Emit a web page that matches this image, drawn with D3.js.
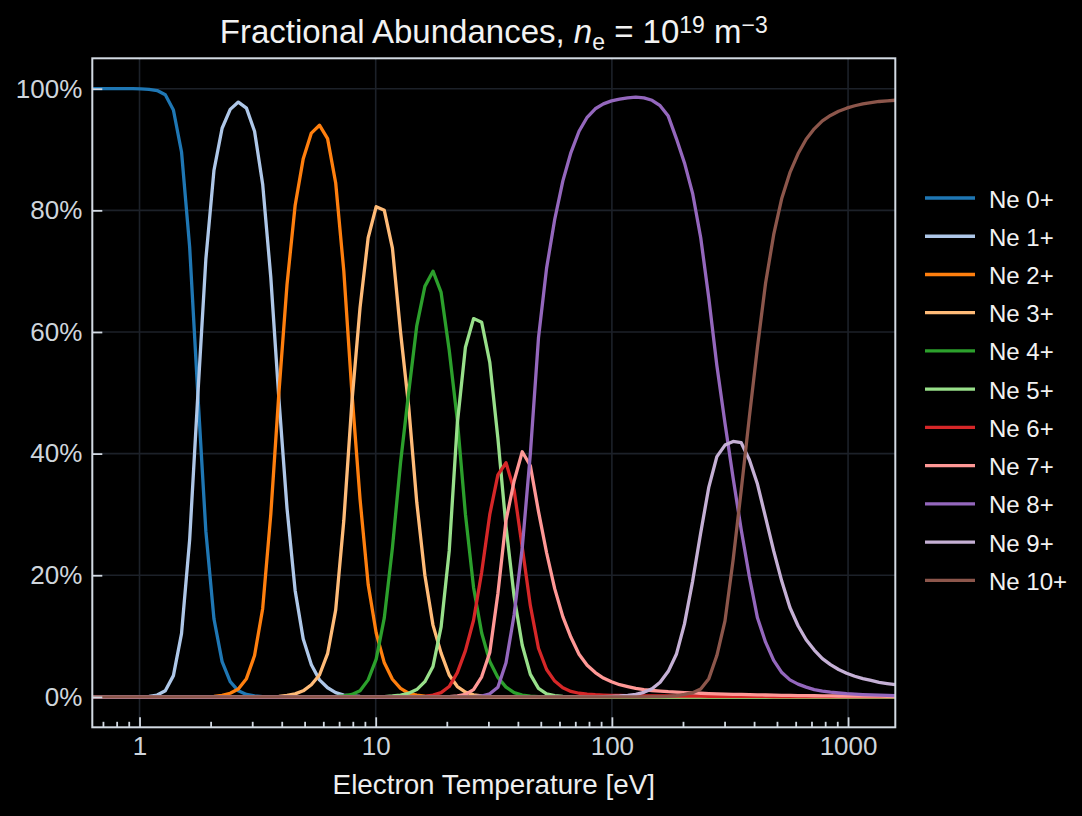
<!DOCTYPE html>
<html>
<head>
<meta charset="utf-8">
<script src="https://cdn.jsdelivr.net/npm/d3@7"></script>
<style>
  html, body { margin: 0; padding: 0; background: #000; }
  svg { display: block; font-family: "Liberation Sans", Arial, sans-serif; }
</style>
</head>
<body>
<svg id="abundanceVis" width="1082" height="816"></svg>
<script>
// electron temperature grid [eV]
const temperature = [
  0.6310, 0.6828, 0.7391, 0.7998, 0.8657, 0.9370, 1.0140, 1.0975, 1.1878, 1.2856,
  1.3914, 1.5060, 1.6300, 1.7642, 1.9094, 2.0666, 2.2367, 2.4209, 2.6202, 2.8358,
  3.0693, 3.3220, 3.5955, 3.8915, 4.2118, 4.5586, 4.9338, 5.3400, 5.7796, 6.2554,
  6.7703, 7.3277, 7.9309, 8.5838, 9.2905, 10.047, 10.874, 11.770, 12.738, 13.787,
  14.922, 16.150, 17.480, 18.919, 20.476, 22.162, 23.986, 25.961, 28.098, 30.411,
  32.914, 35.624, 38.556, 41.730, 45.166, 48.884, 52.908, 57.264, 61.978, 67.080,
  72.602, 78.579, 85.047, 92.049, 99.626, 107.83, 116.65, 126.26, 136.65, 147.91,
  160.08, 173.26, 187.52, 202.96, 219.67, 237.76, 257.33, 278.26, 301.24, 326.04,
  352.88, 381.94, 413.38, 447.42, 484.26, 524.13, 567.29, 613.99, 664.53, 719.25,
  778.47, 842.56, 911.93, 986.15, 1067.3, 1155.2, 1250.3, 1353.3, 1464.7, 1584.9
];

// fractional abundance of each charge state
const ne0 = [
  1, 1, 1, 1, 1, 1, 0.9998, 0.999, 0.997, 0.99, 0.965, 0.896, 0.74, 0.50, 0.272, 0.128, 0.058, 0.025, 0.01, 0.004,
  0.0015, 0.0006, 0.0002, 0, 0, 0, 0, 0, 0, 0, 0, 0, 0, 0, 0, 0, 0, 0, 0, 0,
  0, 0, 0, 0, 0, 0, 0, 0, 0, 0, 0, 0, 0, 0, 0, 0, 0, 0, 0, 0,
  0, 0, 0, 0, 0, 0, 0, 0, 0, 0, 0, 0, 0, 0, 0, 0, 0, 0, 0, 0,
  0, 0, 0, 0, 0, 0, 0, 0, 0, 0, 0, 0, 0, 0, 0, 0, 0, 0, 0, 0
];
const ne1 = [
  0, 0, 0, 0, 0, 0, 0.0002, 0.001, 0.003, 0.01, 0.035, 0.104, 0.258, 0.494, 0.72, 0.866, 0.935, 0.966, 0.978, 0.968,
  0.93, 0.843, 0.69, 0.49, 0.31, 0.175, 0.095, 0.053, 0.028, 0.015, 0.007, 0.003, 0.0015, 0.0007, 0.0003, 0, 0, 0, 0, 0,
  0, 0, 0, 0, 0, 0, 0, 0, 0, 0, 0, 0, 0, 0, 0, 0, 0, 0, 0, 0,
  0, 0, 0, 0, 0, 0, 0, 0, 0, 0, 0, 0, 0, 0, 0, 0, 0, 0, 0, 0,
  0, 0, 0, 0, 0, 0, 0, 0, 0, 0, 0, 0, 0, 0, 0, 0, 0, 0, 0, 0
];
const ne2 = [
  0, 0, 0, 0, 0, 0, 0, 0, 0, 0, 0, 0, 0, 0, 0.0003, 0.001, 0.0025, 0.006, 0.013, 0.03,
  0.068, 0.145, 0.30, 0.50, 0.678, 0.808, 0.885, 0.927, 0.94, 0.918, 0.845, 0.70, 0.50, 0.325, 0.185, 0.105, 0.056, 0.029, 0.014, 0.006,
  0.003, 0.0012, 0.0005, 0.0002, 0, 0, 0, 0, 0, 0, 0, 0, 0, 0, 0, 0, 0, 0, 0, 0,
  0, 0, 0, 0, 0, 0, 0, 0, 0, 0, 0, 0, 0, 0, 0, 0, 0, 0, 0, 0,
  0, 0, 0, 0, 0, 0, 0, 0, 0, 0, 0, 0, 0, 0, 0, 0, 0, 0, 0, 0
];
const ne3 = [
  0, 0, 0, 0, 0, 0, 0, 0, 0, 0, 0, 0, 0, 0, 0, 0, 0, 0, 0, 0,
  0, 0, 0.0003, 0.001, 0.0025, 0.005, 0.01, 0.02, 0.036, 0.071, 0.143, 0.29, 0.485, 0.64, 0.755, 0.806, 0.80, 0.738, 0.60, 0.478,
  0.32, 0.20, 0.118, 0.072, 0.036, 0.017, 0.008, 0.0035, 0.0015, 0.0006, 0.0002, 0, 0, 0, 0, 0, 0, 0, 0, 0,
  0, 0, 0, 0, 0, 0, 0, 0, 0, 0, 0, 0, 0, 0, 0, 0, 0, 0, 0, 0,
  0, 0, 0, 0, 0, 0, 0, 0, 0, 0, 0, 0, 0, 0, 0, 0, 0, 0, 0, 0
];
const ne4 = [
  0, 0, 0, 0, 0, 0, 0, 0, 0, 0, 0, 0, 0, 0, 0, 0, 0, 0, 0, 0,
  0, 0, 0, 0, 0, 0, 0, 0, 0, 0, 0.0005, 0.0015, 0.004, 0.01, 0.028, 0.062, 0.13, 0.245, 0.385, 0.50,
  0.61, 0.675, 0.70, 0.665, 0.57, 0.455, 0.30, 0.18, 0.105, 0.058, 0.032, 0.016, 0.007, 0.003, 0.0012, 0.0005, 0.0002, 0, 0, 0,
  0, 0, 0, 0, 0, 0, 0, 0, 0, 0, 0, 0, 0, 0, 0, 0, 0, 0, 0, 0,
  0, 0, 0, 0, 0, 0, 0, 0, 0, 0, 0, 0, 0, 0, 0, 0, 0, 0, 0, 0
];
const ne5 = [
  0, 0, 0, 0, 0, 0, 0, 0, 0, 0, 0, 0, 0, 0, 0, 0, 0, 0, 0, 0,
  0, 0, 0, 0, 0, 0, 0, 0, 0, 0, 0, 0, 0, 0, 0, 0, 0.0005, 0.0015, 0.003, 0.006,
  0.012, 0.025, 0.05, 0.115, 0.24, 0.45, 0.575, 0.622, 0.616, 0.55, 0.425, 0.28, 0.165, 0.085, 0.037, 0.014, 0.005, 0.002, 0.0008, 0.0003,
  0, 0, 0, 0, 0, 0, 0, 0, 0, 0, 0, 0, 0, 0, 0, 0, 0, 0, 0, 0,
  0, 0, 0, 0, 0, 0, 0, 0, 0, 0, 0, 0, 0, 0, 0, 0, 0, 0, 0, 0
];
const ne6 = [
  0, 0, 0, 0, 0, 0, 0, 0, 0, 0, 0, 0, 0, 0, 0, 0, 0, 0, 0, 0,
  0, 0, 0, 0, 0, 0, 0, 0, 0, 0, 0, 0, 0, 0, 0, 0, 0, 0, 0, 0,
  0.0005, 0.001, 0.003, 0.007, 0.017, 0.04, 0.076, 0.126, 0.205, 0.30, 0.365, 0.385, 0.34, 0.246, 0.15, 0.08, 0.045, 0.026, 0.015, 0.009,
  0.006, 0.0045, 0.0035, 0.003, 0.0026, 0.0023, 0.0021, 0.0019, 0.0018, 0.0017, 0.0016, 0.0015, 0.0014, 0.0013, 0.0012, 0.0011, 0.001, 0.001, 0.0009, 0.0009,
  0.0008, 0.0008, 0.0007, 0.0007, 0.0006, 0.0006, 0.0005, 0.0005, 0.0005, 0.0004, 0.0004, 0.0004, 0.0004, 0.0004, 0.0003, 0.0003, 0.0003, 0.0003, 0.0003, 0.0003
];
const ne7 = [
  0, 0, 0, 0, 0, 0, 0, 0, 0, 0, 0, 0, 0, 0, 0, 0, 0, 0, 0, 0,
  0, 0, 0, 0, 0, 0, 0, 0, 0, 0, 0, 0, 0, 0, 0, 0, 0, 0, 0, 0,
  0, 0, 0, 0, 0.0005, 0.0015, 0.004, 0.012, 0.033, 0.073, 0.17, 0.29, 0.355, 0.403, 0.38, 0.305, 0.237, 0.178, 0.132, 0.098,
  0.07, 0.052, 0.04, 0.031, 0.025, 0.02, 0.017, 0.014, 0.012, 0.0105, 0.0095, 0.0085, 0.0078, 0.0071, 0.0065, 0.006, 0.0055, 0.005, 0.0046, 0.0043,
  0.004, 0.0037, 0.0034, 0.0031, 0.0028, 0.0026, 0.0024, 0.0022, 0.002, 0.0019, 0.0017, 0.0016, 0.0015, 0.0014, 0.0013, 0.0012, 0.0011, 0.0011, 0.001, 0.001
];
const ne8 = [
  0, 0, 0, 0, 0, 0, 0, 0, 0, 0, 0, 0, 0, 0, 0, 0, 0, 0, 0, 0,
  0, 0, 0, 0, 0, 0, 0, 0, 0, 0, 0, 0, 0, 0, 0, 0, 0, 0, 0, 0,
  0, 0, 0, 0, 0, 0, 0, 0.0005, 0.0015, 0.005, 0.016, 0.056, 0.135, 0.245, 0.40, 0.59, 0.705, 0.785, 0.848, 0.895,
  0.93, 0.953, 0.967, 0.975, 0.98, 0.983, 0.985, 0.986, 0.985, 0.981, 0.972, 0.955, 0.918, 0.878, 0.828, 0.755, 0.655, 0.545, 0.45, 0.36,
  0.275, 0.198, 0.13, 0.09, 0.06, 0.04, 0.028, 0.021, 0.016, 0.012, 0.0095, 0.0078, 0.0064, 0.0053, 0.0045, 0.0038, 0.0033, 0.0029, 0.0025, 0.0022
];
const ne9 = [
  0, 0, 0, 0, 0, 0, 0, 0, 0, 0, 0, 0, 0, 0, 0, 0, 0, 0, 0, 0,
  0, 0, 0, 0, 0, 0, 0, 0, 0, 0, 0, 0, 0, 0, 0, 0, 0, 0, 0, 0,
  0, 0, 0, 0, 0, 0, 0, 0, 0, 0, 0, 0, 0, 0, 0, 0, 0, 0, 0, 0,
  0, 0, 0, 0.0005, 0.001, 0.0015, 0.0025, 0.004, 0.0075, 0.0135, 0.024, 0.042, 0.07, 0.12, 0.19, 0.27, 0.345, 0.395, 0.414, 0.42,
  0.418, 0.39, 0.35, 0.295, 0.24, 0.19, 0.147, 0.117, 0.094, 0.077, 0.063, 0.053, 0.045, 0.039, 0.034, 0.030, 0.027, 0.024, 0.022, 0.02
];
const ne10 = [
  0, 0, 0, 0, 0, 0, 0, 0, 0, 0, 0, 0, 0, 0, 0, 0, 0, 0, 0, 0,
  0, 0, 0, 0, 0, 0, 0, 0, 0, 0, 0, 0, 0, 0, 0, 0, 0, 0, 0, 0,
  0, 0, 0, 0, 0, 0, 0, 0, 0, 0, 0, 0, 0, 0, 0, 0, 0, 0, 0, 0,
  0, 0, 0, 0, 0, 0, 0, 0, 0, 0.0003, 0.0006, 0.001, 0.002, 0.004, 0.007, 0.013, 0.03, 0.068, 0.125, 0.225,
  0.34, 0.46, 0.575, 0.68, 0.76, 0.82, 0.862, 0.893, 0.917, 0.934, 0.947, 0.956, 0.963, 0.968, 0.972, 0.975, 0.977, 0.979, 0.98, 0.981
];

const ionLabels = ['Ne 0+', 'Ne 1+', 'Ne 2+', 'Ne 3+', 'Ne 4+', 'Ne 5+', 'Ne 6+', 'Ne 7+', 'Ne 8+', 'Ne 9+', 'Ne 10+'];
const ionColors = ['#1f77b4', '#aec7e8', '#ff7f0e', '#ffbb78', '#2ca02c', '#98df8a',
                   '#d62728', '#ff9896', '#9467bd', '#c5b0d5', '#8c564b'];
const abundances = [ne0, ne1, ne2, ne3, ne4, ne5, ne6, ne7, ne8, ne9, ne10];

const xTicks = [1, 10, 100, 1000];
const xTickLabels = ['1', '10', '100', '1000'];
const xMinorTicks = [0.7, 0.8, 0.9, 2, 3, 4, 5, 6, 7, 8, 9, 20, 30, 40, 50, 60, 70, 80, 90,
                     200, 300, 400, 500, 600, 700, 800, 900];
const yTicks = [0, 0.2, 0.4, 0.6, 0.8, 1.0];
const yTickLabels = ['0%', '20%', '40%', '60%', '80%', '100%'];

const margin = { top: 58.3, left: 92.3 };
const width = 803;
const height = 669;
const spineColor = '#d3dae3';
const gridColor = '#1c2129';

const svg = d3.select('svg#abundanceVis');
const g = svg.append('g')
    .attr('transform', `translate(${margin.left},${margin.top})`);

const xScale = d3.scaleLog()
    .domain([temperature[0], temperature[temperature.length - 1]])
    .range([0, width]);
const yScale = d3.scaleLinear()
    .domain([-0.05, 1.05])
    .range([height, 0]);

// grid
g.append('g')
    .selectAll('line')
    .data(xTicks)
    .enter()
    .append('line')
    .attr('x1', d => xScale(d)).attr('x2', d => xScale(d))
    .attr('y1', 0).attr('y2', height)
    .attr('stroke', gridColor).attr('stroke-width', 1.6);
g.append('g')
    .selectAll('line')
    .data(yTicks)
    .enter()
    .append('line')
    .attr('x1', 0).attr('x2', width)
    .attr('y1', d => yScale(d)).attr('y2', d => yScale(d))
    .attr('stroke', gridColor).attr('stroke-width', 1.6);

// curves
svg.append('clipPath').attr('id', 'plotClip')
    .append('rect').attr('width', width).attr('height', height);

const line = d3.line()
    .x((d, i) => xScale(temperature[i]))
    .y(d => yScale(d));

g.append('g')
    .attr('clip-path', 'url(#plotClip)')
    .selectAll('path')
    .data(abundances)
    .enter()
    .append('path')
    .attr('d', d => line(d))
    .attr('fill', 'none')
    .attr('stroke', (d, i) => ionColors[i])
    .attr('stroke-width', 3.3)
    .attr('stroke-linejoin', 'round');

// axes (ticks point inward)
g.append('g')
    .attr('transform', `translate(0,${height})`)
    .call(d3.axisBottom(xScale).tickValues(xTicks)
        .tickFormat((d, i) => xTickLabels[i]).tickSize(-10).tickPadding(9))
    .call(a => a.select('.domain').remove());
g.append('g')
    .attr('transform', `translate(0,${height})`)
    .call(d3.axisBottom(xScale).tickValues(xMinorTicks).tickFormat('').tickSize(-5.5))
    .call(a => a.select('.domain').remove());
g.append('g')
    .call(d3.axisLeft(yScale).tickValues(yTicks)
        .tickFormat((d, i) => yTickLabels[i]).tickSize(-10).tickPadding(10))
    .call(a => a.select('.domain').remove());

g.selectAll('.tick line').attr('stroke', spineColor).attr('stroke-width', 1.8);
g.selectAll('.tick text')
    .attr('fill', '#cfd5dc')
    .style('font-size', '26px')
    .style('font-family', '"Liberation Sans", Arial, sans-serif');

// frame
g.append('rect')
    .attr('width', width).attr('height', height)
    .attr('fill', 'none')
    .attr('stroke', spineColor)
    .attr('stroke-width', 2);

// x label
svg.append('text')
    .attr('x', margin.left + width / 2)
    .attr('y', 794)
    .attr('text-anchor', 'middle')
    .attr('fill', '#eeeeee')
    .style('font-size', '27.8px')
    .text('Electron Temperature [eV]');

// title with math
const title = svg.append('text')
    .attr('x', margin.left + width / 2)
    .attr('y', 43)
    .attr('text-anchor', 'middle')
    .attr('fill', '#f2f2f2')
    .style('font-size', '33px');
title.append('tspan').text('Fractional Abundances, ');
title.append('tspan').style('font-style', 'italic').text('n');
title.append('tspan').style('font-size', '23px').attr('dy', 7).text('e');
title.append('tspan').attr('dy', -7).text(' = 10');
title.append('tspan').style('font-size', '23px').attr('dy', -10).text('19');
title.append('tspan').attr('dy', 10).text(' m');
title.append('tspan').style('font-size', '23px').attr('dy', -10).text('\u22123');

// legend
const legendG = svg.append('g')
    .attr('transform', 'translate(925,198)');
const rowStep = 38.24;
const legendRows = legendG.selectAll('g')
    .data(ionLabels)
    .enter()
    .append('g')
    .attr('transform', (d, i) => `translate(0,${i * rowStep})`);
legendRows.append('line')
    .attr('x1', 0).attr('x2', 50)
    .attr('stroke', (d, i) => ionColors[i])
    .attr('stroke-width', 3.3);
legendRows.append('text')
    .attr('x', 64)
    .attr('y', 9.5)
    .attr('fill', '#f2f2f2')
    .style('font-size', '24px')
    .text(d => d);
</script>
</body>
</html>
